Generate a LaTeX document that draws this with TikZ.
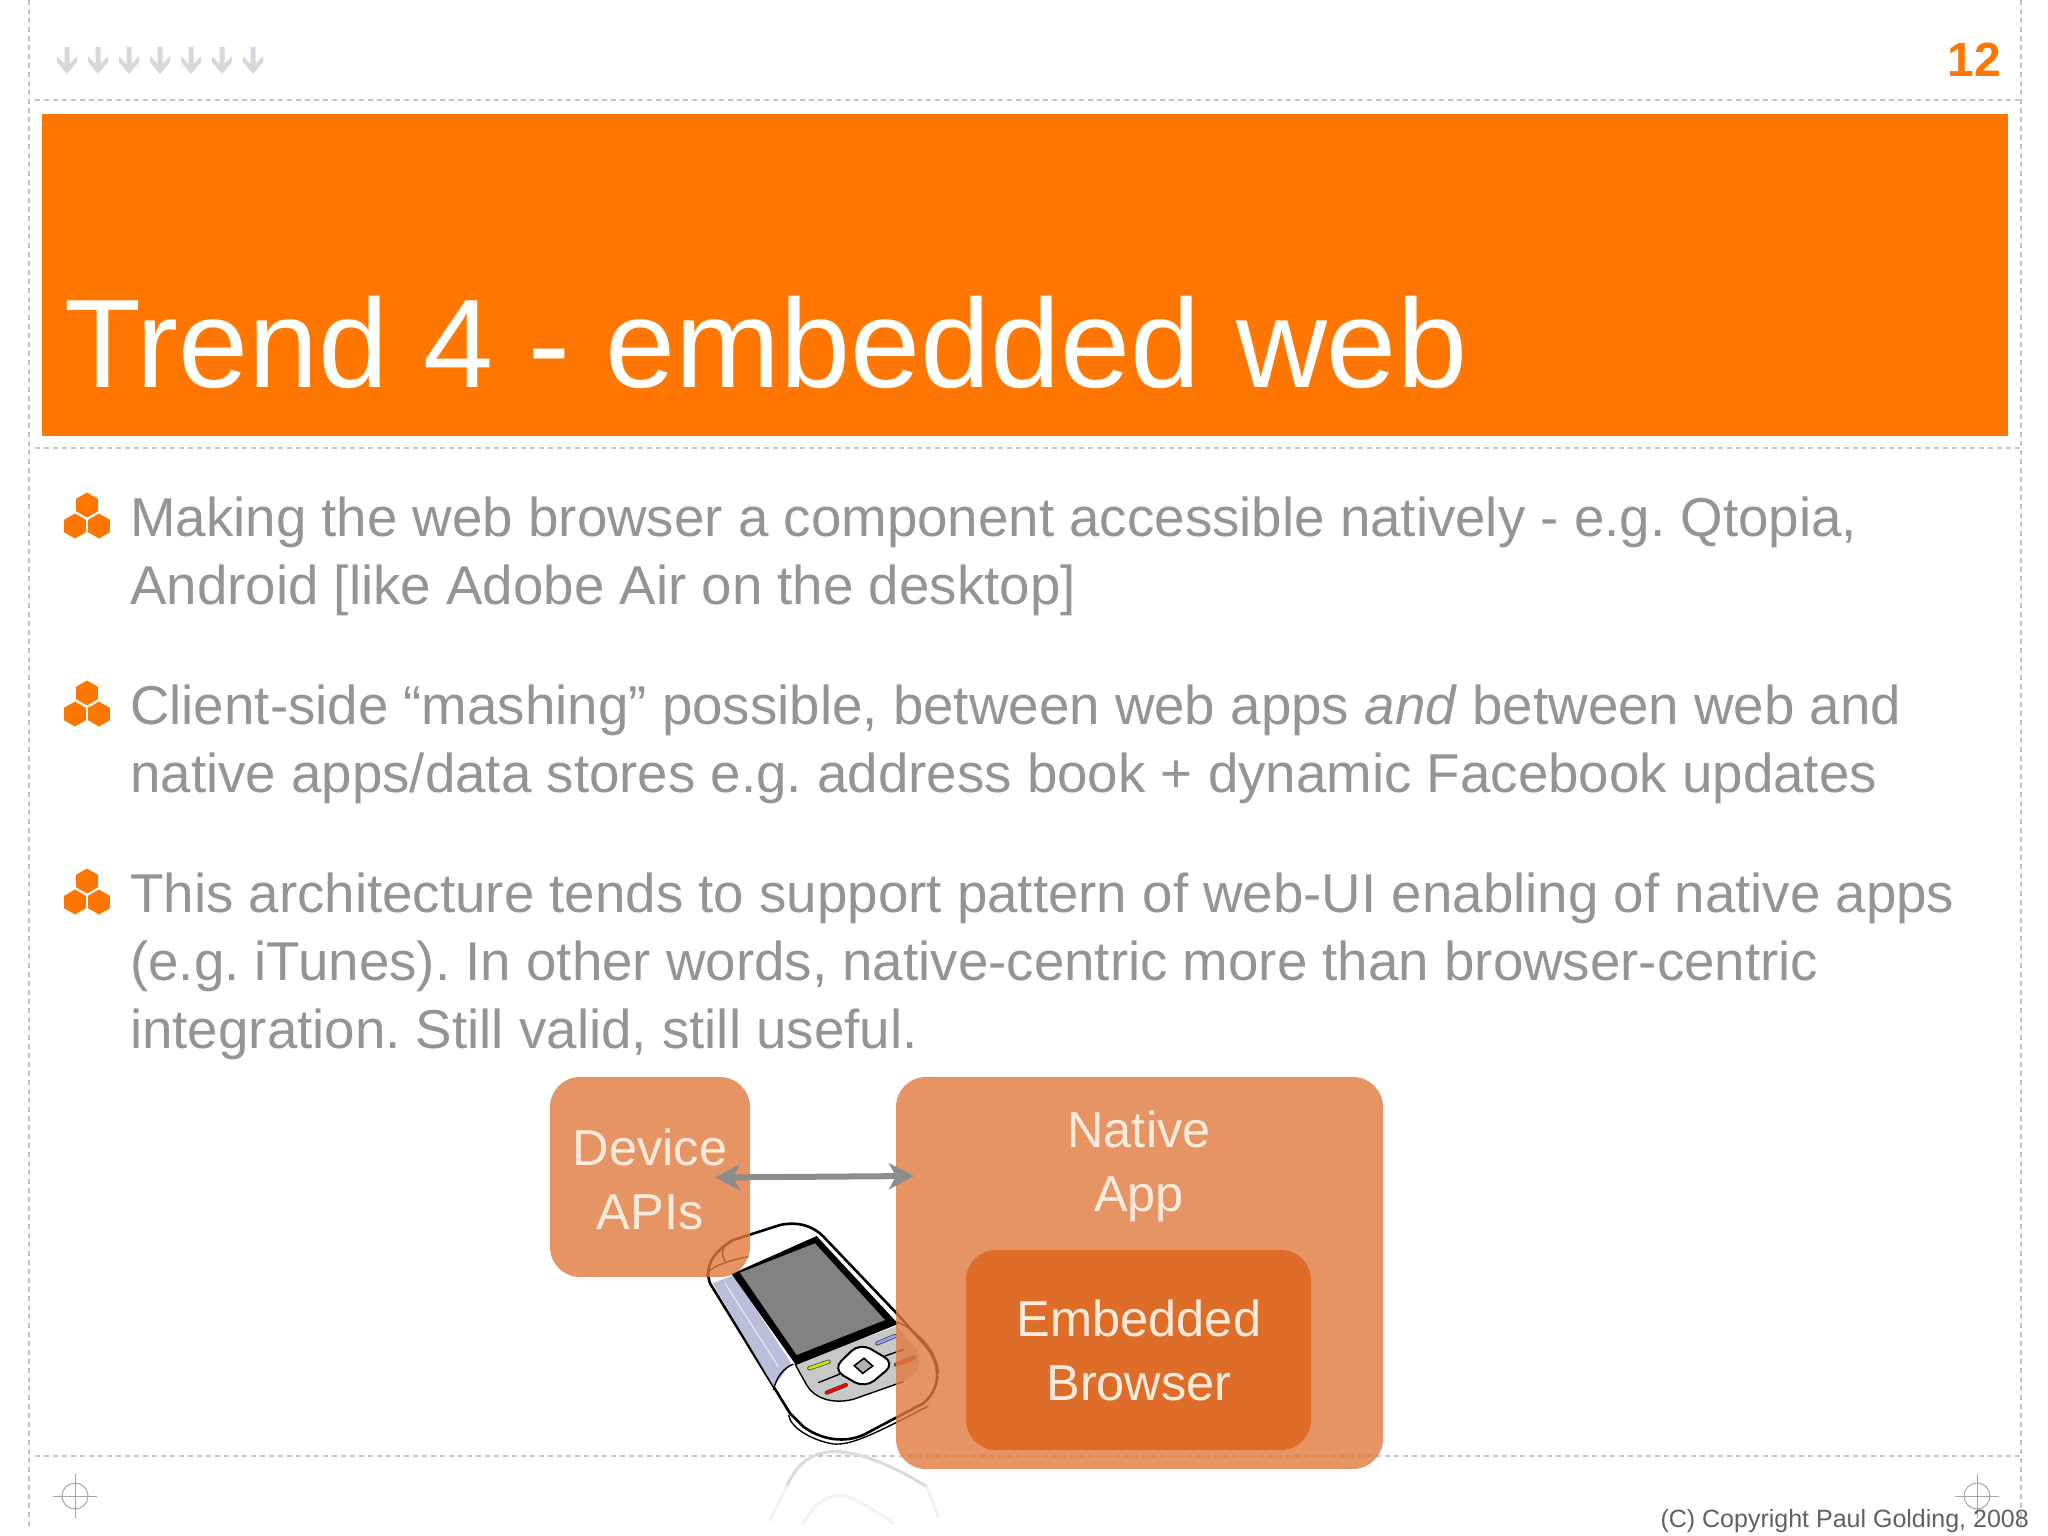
\documentclass[tikz,border=0pt]{standalone}
\usepackage{fontspec}
\setmainfont{Liberation Sans}
\usetikzlibrary{arrows.meta,positioning}
\definecolor{slorange}{RGB}{255,119,0}
\definecolor{slgray}{RGB}{148,148,148}
\definecolor{sldash}{RGB}{196,196,196}
\definecolor{slarrow}{RGB}{213,217,221}
\definecolor{boxlight}{RGB}{224,122,62}
\definecolor{boxdark}{RGB}{223,109,42}
\definecolor{boxtext}{RGB}{251,235,221}
\definecolor{phonestrip}{RGB}{186,190,216}
\definecolor{phonekeys}{RGB}{200,200,200}
\tikzset{
  bodyline/.style={anchor=base west, inner sep=0pt, text=slgray, font=\fontsize{54.7}{68}\selectfont\frenchspacing},
  boxlabel/.style={inner sep=0pt, align=center, text=boxtext, font=\fontsize{50.5}{64}\selectfont},
  lightbox/.style={fill=boxlight, fill opacity=0.8, text opacity=1, rounded corners=30pt, inner sep=0pt},
  darkbox/.style={fill=boxdark, rounded corners=30pt, inner sep=0pt},
  dashline/.style={sldash, line width=1.6pt, dash pattern=on 5pt off 4pt},
  target/.style={gray!70, line width=1pt},
  keybtn/.style={line width=2.8pt, line cap=round},
  keyedge/.style={line width=4.2pt, line cap=round, black!75},
  phoneline/.style={black, line width=1.4pt}
}
\begin{document}
\begin{tikzpicture}[x=1pt,y=-1pt]
\useasboundingbox (0,0) rectangle (2048,1536);
\fill[white] (0,0) rectangle (2048,1536);
% guide lines
\draw[dashline] (29,0) -- (29,1530);
\draw[dashline] (2021,0) -- (2021,1530);
\foreach \y in {100,448,1456} {
  \draw[dashline] (35,\y) -- (2021,\y);
}
% nav arrows
\foreach \x in {67,98,129,160,191,222,253} {
  \fill[slarrow] (\x-2.5,47) -- (\x+2.5,47) -- (\x+2.5,64) -- (\x+10,56) -- (\x+10,62) -- (\x,74) -- (\x-10,62) -- (\x-10,56) -- (\x-2.5,64) -- cycle;
}
\node[anchor=base east, inner sep=0pt, text=slorange, font=\fontsize{48}{48}\selectfont\bfseries] (pagenum) at (2001,77) {12};
% title band
\fill[slorange] (42,114) rectangle (2008,436);
\node[anchor=base west, inner sep=0pt, text=white, font=\fontsize{126}{126}\selectfont] (title) at (64,387) {Trend 4 - embedded web};
% bullets
\foreach \b in {0,188,376} {
  \foreach \hx/\hy in {87/505,75/526,99/526} {
    \fill[slorange, shift={(\hx,\hy+\b)}] (90:12.5) -- (30:12.5) -- (-30:12.5) -- (-90:12.5) -- (-150:12.5) -- (150:12.5) -- cycle;
  }
}
% body text
\node[bodyline] (lineA) at (130,536) {Making the web browser a component accessible natively - e.g. Qtopia,};
\node[bodyline] (lineB) at (130,604) {Android [like Adobe Air on the desktop]};
\node[bodyline] (lineC) at (130,724) {Client-side “mashing” possible, between web apps \textit{and} between web and};
\node[bodyline] (lineD) at (130,792) {native apps/data stores e.g. address book + dynamic Facebook updates};
\node[bodyline] (lineE) at (130,912) {This architecture tends to support pattern of web-UI enabling of native apps};
\node[bodyline] (lineF) at (130,980) {(e.g. iTunes). In other words, native-centric more than browser-centric};
\node[bodyline] (lineG) at (130,1048) {integration. Still valid, still useful.};
% phone
\begin{scope}[shift={(690,1200)}, x=0.3333pt, y=-0.3333pt]
  \draw[phoneline, line width=2.6pt, fill=white, line join=round]
    (60,250) .. controls (40,190) and (80,150) .. (130,120) -- (270,75)
    .. controls (340,60) and (385,90) .. (410,120) -- (620,340) -- (700,430)
    .. controls (750,480) and (760,560) .. (700,610) -- (520,705)
    .. controls (450,735) and (380,710) .. (340,680) -- (300,640) -- cycle;
  \fill[phonestrip] (68,250) -- (132,225) -- (303,490) -- (252,560) -- cycle;
  \draw[white, line width=1.2pt, opacity=0.6] (105,250) -- (265,500);
  \draw[phoneline] (250,570) .. controls (260,530) and (280,505) .. (310,492);
  \fill[phonekeys] (315,492) -- (620,378) -- (680,450) .. controls (700,500) and (670,530) .. (640,545) -- (490,598) .. controls (420,615) and (370,590) .. (350,555) -- cycle;
  \draw[phoneline] (315,492) -- (350,555) .. controls (370,590) and (420,615) .. (490,598) -- (640,545);
  \fill[black] (125,222) -- (380,108) -- (625,372) -- (318,495) -- cycle;
  \fill[gray!98] (150,218) -- (375,130) -- (585,360) -- (320,465) -- cycle;
  \draw[phoneline, line width=2pt, fill=white, rounded corners=12pt] (428,508) -- (510,428) -- (615,490) -- (525,565) -- cycle;
  \draw[phoneline, line width=1.6pt, fill=gray!60] (493,497) -- (522,475) -- (548,498) -- (518,520) -- cycle;
  \draw[keyedge] (358,505) -- (416,485);
  \draw[keybtn, yellow!80!green] (358,505) -- (416,485);
  \draw[keyedge] (410,578) -- (468,555);
  \draw[keybtn, red] (410,578) -- (468,555);
  \draw[keyedge] (562,430) -- (615,408);
  \draw[keybtn, blue!40!white] (562,430) -- (615,408);
  \draw[keyedge] (618,494) -- (672,473);
  \draw[keybtn, red!60!orange] (618,494) -- (672,473);
  \draw[phoneline] (385,548) -- (450,522);
  \draw[phoneline] (585,468) -- (642,448);
  % second outline
  \draw[phoneline] (296,645) .. controls (300,680) and (360,720) .. (430,732) .. controls (480,735) and (530,715) .. (715,618);
  \draw[phoneline] (620,365) .. controls (700,400) and (745,470) .. (745,520);
  \draw[phoneline] (50,230) .. controls (50,205) and (100,185) .. (175,170);
  \draw[phoneline] (130,118) .. controls (100,130) and (85,160) .. (110,190);
  % reflection
  \draw[black!14, line width=3pt, line cap=round] (290,860) .. controls (320,790) and (370,750) .. (450,755) .. controls (540,765) and (630,810) .. (710,860);
  \draw[black!5, line width=3pt, line cap=round] (240,960) -- (290,860);
  \draw[black!5, line width=3pt, line cap=round] (710,860) -- (745,950);
  \draw[black!5, line width=3pt, line cap=round] (340,970) .. controls (380,900) and (420,880) .. (470,890) .. controls (520,910) and (570,940) .. (610,970);
\end{scope}
% boxes
\node[lightbox, minimum width=200pt, minimum height=200pt] (apibox) at (650,1177) {};
\node[boxlabel] (apilabel) at (650,1179) {Device\\APIs};
\node[lightbox, minimum width=487pt, minimum height=392pt] (nativebox) at (1139.5,1273) {};
\node[boxlabel] (nativelabel) at (1139,1166) {Native\\App};
\node[darkbox, minimum width=345pt, minimum height=200pt] (browserbox) at (1138.5,1350) {};
\node[boxlabel] (browserlabel) at (1139,1350) {Embedded\\Browser};
% link
\coordinate (apiend) at (715,1177.5);
\coordinate (nativeend) at (914,1176);
\draw[{Stealth[length=25pt,width=26pt,inset=7pt]}-{Stealth[length=25pt,width=26pt,inset=7pt]}, black!45, line width=6pt] (apiend) -- (nativeend);
% crop marks
\foreach \cx in {75,1977} {
  \draw[target] (\cx,1496) circle (13);
  \draw[target] (\cx-22,1496) -- (\cx+22,1496);
  \draw[target] (\cx,1474) -- (\cx,1518);
}
\node[anchor=base east, inner sep=0pt, text=black!62, font=\fontsize{25}{25}\selectfont] (copyright) at (2029,1527) {(C) Copyright Paul Golding, 2008};
\end{tikzpicture}
\end{document}
